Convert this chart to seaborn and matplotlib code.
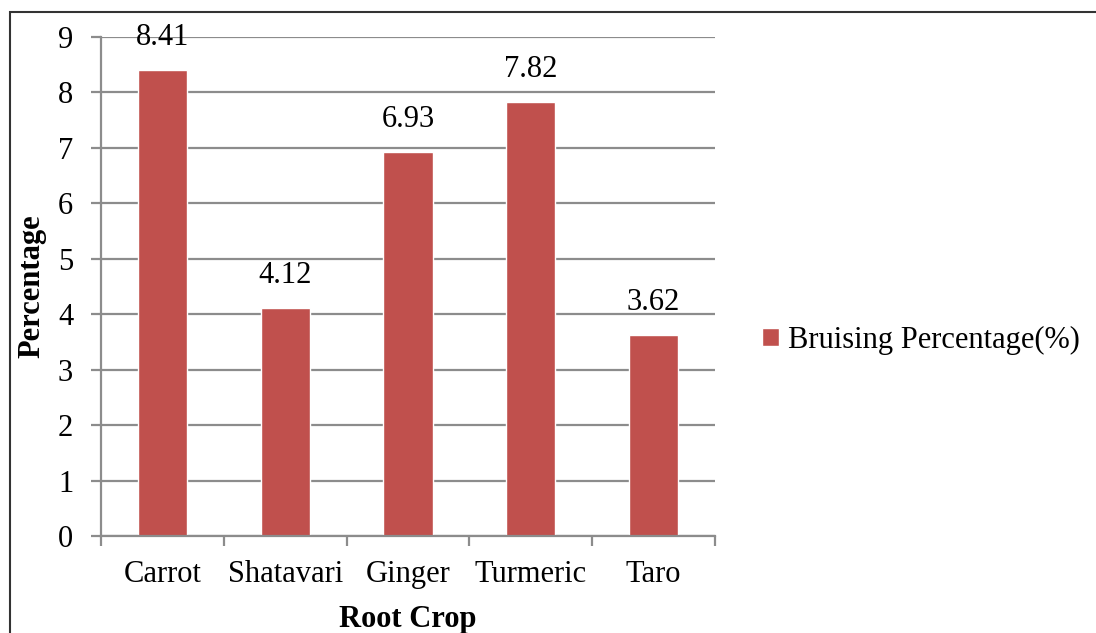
import pandas as pd
import seaborn as sns
import matplotlib.pyplot as plt
from matplotlib.patches import Rectangle

# datos del grafico
crops = ['Carrot', 'Shatavari', 'Ginger', 'Turmeric', 'Taro']
bruising = [8.41, 4.12, 6.93, 7.82, 3.62]
series_name = 'Bruising Percentage(%)'
y_ticks = [0, 1, 2, 3, 4, 5, 6, 7, 8, 9]

df = pd.DataFrame({'crop': crops, 'value': bruising})

sns.set_style('white')
plt.rcParams['font.family'] = ['Liberation Serif', 'DejaVu Serif']
plt.rcParams['text.color'] = 'black'
plt.rcParams['axes.labelcolor'] = 'black'
plt.rcParams['xtick.labelcolor'] = 'black'
plt.rcParams['ytick.labelcolor'] = 'black'

bar_color = '#C0504D'
grid_color = '#8c8c8c'

fig = plt.figure(figsize=(10.96, 6.33), dpi=100)
ax = fig.add_axes([101 / 1096, 1 - 536 / 633, (715 - 101) / 1096, (536 - 37) / 633])

sns.barplot(data=df, x='crop', y='value', color=bar_color, width=0.4,
            saturation=1, label=series_name, ax=ax)

ax.set_ylim(0, 9)
ax.set_xlim(-0.5, len(crops) - 0.5)
ax.set_yticks(y_ticks)
ax.yaxis.grid(True, color=grid_color, linewidth=1.6)
ax.set_axisbelow(True)

# ticks del eje x en los limites de cada categoria
ax.set_xticks([i - 0.5 for i in range(len(crops) + 1)], minor=True)
ax.tick_params(axis='x', which='major', bottom=True, length=0, labelsize=22, pad=17)
ax.tick_params(axis='x', which='minor', bottom=True, length=7, width=1.6, color=grid_color)
ax.tick_params(axis='y', left=True, length=7, width=1.6, color=grid_color,
               labelsize=22, pad=13)

for side in ['top', 'right']:
    ax.spines[side].set_visible(False)
for side in ['left', 'bottom']:
    ax.spines[side].set_color(grid_color)
    ax.spines[side].set_linewidth(1.6)

ax.bar_label(ax.containers[0], labels=[f'{v:.2f}' for v in bruising],
             padding=13, fontsize=22)

ax.set_xlabel('Root Crop', fontsize=22, fontweight='bold', labelpad=12)
ax.set_ylabel('Percentage', fontsize=22, fontweight='bold', labelpad=8)

ax.legend(loc='center left', bbox_to_anchor=(747 / 1096, 1 - 340 / 633),
          bbox_transform=fig.transFigure, frameon=False, fontsize=22,
          handlelength=0.55, handleheight=0.55, handletextpad=0.3, borderpad=0)

# marco exterior
fig.patches.append(Rectangle((10 / 1096, -0.1), 1.2, 1 - 12 / 633 + 0.1,
                             transform=fig.transFigure, fill=False,
                             edgecolor='#333333', linewidth=1.5))

fig.savefig('out.png', dpi=100)
